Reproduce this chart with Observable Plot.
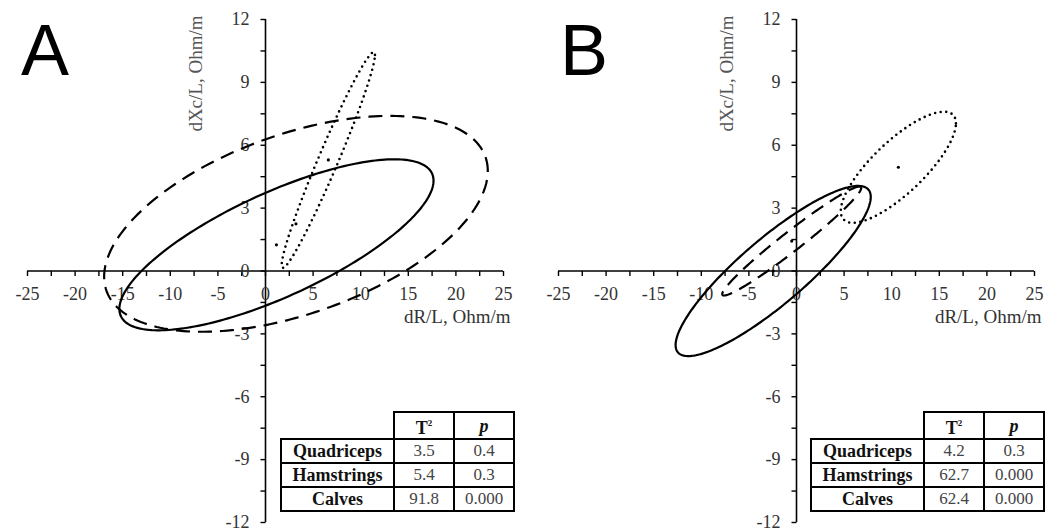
<!DOCTYPE html>
<html>
<head>
<meta charset="utf-8">
<script src="https://cdn.jsdelivr.net/npm/d3@7"></script>
<script src="https://cdn.jsdelivr.net/npm/@observablehq/plot@0.6"></script>
<style>
  html, body { margin: 0; padding: 0; background: #fff; }
  #root { position: relative; width: 1047px; height: 531px; overflow: hidden; font-family: "Liberation Serif", "Times New Roman", serif; }
  .panel { position: absolute; top: 0; }
  #root svg text { font-family: "Liberation Serif", "Times New Roman", serif; }
  .letter { position: absolute; top: 14px; font-family: "Liberation Sans", Arial, sans-serif; font-size: 72px; line-height: 72px; color: #000; }
  table.stats { position: absolute; top: 411px; border-collapse: collapse; table-layout: fixed; font-family: "Liberation Serif", "Times New Roman", serif; }
  table.stats td { border: 2px solid #000; height: 22px; padding: 0; text-align: center; line-height: 20px; font-size: 17px; color: #444; font-family: "Liberation Serif", "Times New Roman", serif; }
  table.stats tr:first-child td:first-child { border: none; }
  table.stats td.lab { font-weight: bold; color: #111; font-size: 18px; }
  table.stats td.hd { font-weight: bold; color: #111; font-size: 18px; }
  table.stats td.hd sup { font-size: 9px; vertical-align: 8px; }
</style>
</head>
<body>
<div id="root"></div>
<script>
// ---------- data ----------
const panelKeys = ["A", "B"];
const muscles = ["Quadriceps", "Hamstrings", "Calves"];

// Hotelling T^2 and p values per panel
const t2A = ["3.5", "5.4", "91.8"];
const pA  = ["0.4", "0.3", "0.000"];
const t2B = ["4.2", "62.7", "62.4"];
const pB  = ["0.3", "0.000", "0.000"];

// Ellipse parameters, order: Quadriceps, Hamstrings, Calves
// center x, center y, half x-extent, half y-extent, correlation
const cxA = [1.15, 3.2, 6.6];
const cyA = [1.25, 2.25, 5.3];
const sxA = [16.5, 20.15, 4.9];
const syA = [4.08, 5.15, 5.15];
const rA  = [0.75, 0.49, 0.973];

const cxB = [-2.45, -0.5, 10.7];
const cyB = [0.0, 1.43, 4.95];
const sxB = [10.25, 7.3, 6.05];
const syB = [4.06, 2.6, 2.65];
const rB  = [0.87, 0.974, 0.79];

// axis ticks / labels
const xTicks = d3.range(-25, 25.01, 2.5);
const xLabels = [-25, -20, -15, -10, -5, 0, 5, 10, 15, 20, 25];
const yTicks = d3.range(-12, 12.01, 1.5);
const yLabels = [-12, -9, -6, -3, 0, 3, 6, 9, 12];
const xTitle = "dR/L, Ohm/m";
const yTitle = "dXc/L, Ohm/m";

// ---------- styles ----------
const lineStyle = {
  Quadriceps: {strokeWidth: 2.2, strokeDasharray: null, strokeLinecap: "butt"},
  Hamstrings: {strokeWidth: 2.2, strokeDasharray: "14,8", strokeLinecap: "butt"},
  Calves:     {strokeWidth: 2.6, strokeDasharray: "0,5.6", strokeLinecap: "round"}
};

function ellipsePoints(cx, cy, sx, sy, r, name) {
  const n = 240, k = Math.sqrt(1 - r * r);
  const pts = [];
  for (let i = 0; i <= n; i++) {
    const t = (i / n) * 2 * Math.PI;
    pts.push({x: cx + sx * Math.cos(t), y: cy + sy * (r * Math.cos(t) + k * Math.sin(t)), muscle: name});
  }
  return pts;
}

const tickDown = {draw(ctx) { ctx.moveTo(0, 0); ctx.lineTo(0, 5); }};
const tickLeft = {draw(ctx) { ctx.moveTo(0, 0); ctx.lineTo(-5, 0); }};

function makePanel(cx, cy, sx, sy, r, width, ml, mr) {
  const centers = muscles.map((m, i) => ({x: cx[i], y: cy[i], muscle: m}));
  const ellMarks = muscles.map((m, i) =>
    Plot.line(ellipsePoints(cx[i], cy[i], sx[i], sy[i], r[i], m), {
      x: "x", y: "y", stroke: "#000", curve: "linear",
      strokeWidth: lineStyle[m].strokeWidth,
      strokeDasharray: lineStyle[m].strokeDasharray,
      strokeLinecap: lineStyle[m].strokeLinecap
    })
  );
  return Plot.plot({
    width, height: 531,
    marginLeft: ml, marginRight: mr, marginTop: 19, marginBottom: 9,
    x: {domain: [-25, 25], axis: null},
    y: {domain: [-12, 12], axis: null},
    style: {background: "transparent", overflow: "visible"},
    marks: [
      Plot.ruleY([0], {x1: -25, x2: 25, stroke: "#000", strokeWidth: 1.6}),
      Plot.ruleX([0], {y1: -12, y2: 12, stroke: "#000", strokeWidth: 1.6}),
      Plot.dot(xTicks, {x: d => d, y: 0, symbol: tickDown, stroke: "#000", fill: "none", strokeWidth: 1.4}),
      Plot.dot(yTicks, {x: 0, y: d => d, symbol: tickLeft, stroke: "#000", fill: "none", strokeWidth: 1.4}),
      Plot.text(xLabels, {x: d => d, y: 0, dy: 23, text: d => String(d), fontSize: 18, fill: "#333"}),
      Plot.text(yLabels, {x: 0, y: d => d, dx: -16, text: d => String(d), textAnchor: "end", fontSize: 18, fill: "#333"}),
      Plot.text([xTitle], {x: 25, y: 0, dx: 7, dy: 46, text: d => d, textAnchor: "end", fontSize: 19, fill: "#333"}),
      Plot.text([yTitle], {x: 0, y: 12, dx: -70, dy: -4, text: d => d, rotate: -90, textAnchor: "end", fontSize: 19, fill: "#555"}),
      ...ellMarks,
      Plot.dot(centers, {x: "x", y: "y", r: 1.6, fill: "#000", stroke: "none"})
    ]
  });
}

function makeTable(left, t2, p) {
  const tbl = document.createElement("table");
  tbl.className = "stats";
  tbl.style.left = left + "px";
  const cg = document.createElement("colgroup");
  [113, 60, 60].forEach(w => { const c = document.createElement("col"); c.style.width = w + "px"; cg.appendChild(c); });
  tbl.appendChild(cg);
  const hr = tbl.insertRow();
  hr.insertCell().textContent = "";
  const h1 = hr.insertCell(); h1.className = "hd"; h1.innerHTML = "T<sup>2</sup>";
  const h2 = hr.insertCell(); h2.className = "hd"; h2.innerHTML = "<i>p</i>";
  muscles.forEach((m, i) => {
    const row = tbl.insertRow();
    const a = row.insertCell(); a.className = "lab"; a.textContent = m;
    row.insertCell().textContent = t2[i];
    row.insertCell().textContent = p[i];
  });
  return tbl;
}

function makeLetter(key, left) {
  const d = document.createElement("div");
  d.className = "letter";
  d.style.left = left + "px";
  d.textContent = key;
  return d;
}

const root = document.getElementById("root");
const pa = makePanel(cxA, cyA, sxA, syA, rA, 523, 27, 20);
pa.classList.add("panel"); pa.style.left = "0px";
root.appendChild(pa);
const pb = makePanel(cxB, cyB, sxB, syB, rB, 520, 31, 13);
pb.classList.add("panel"); pb.style.left = "527px";
root.appendChild(pb);
root.appendChild(makeLetter(panelKeys[0], 21));
root.appendChild(makeLetter(panelKeys[1], 560));
root.appendChild(makeTable(280, t2A, pA));
root.appendChild(makeTable(810, t2B, pB));
</script>
</body>
</html>
